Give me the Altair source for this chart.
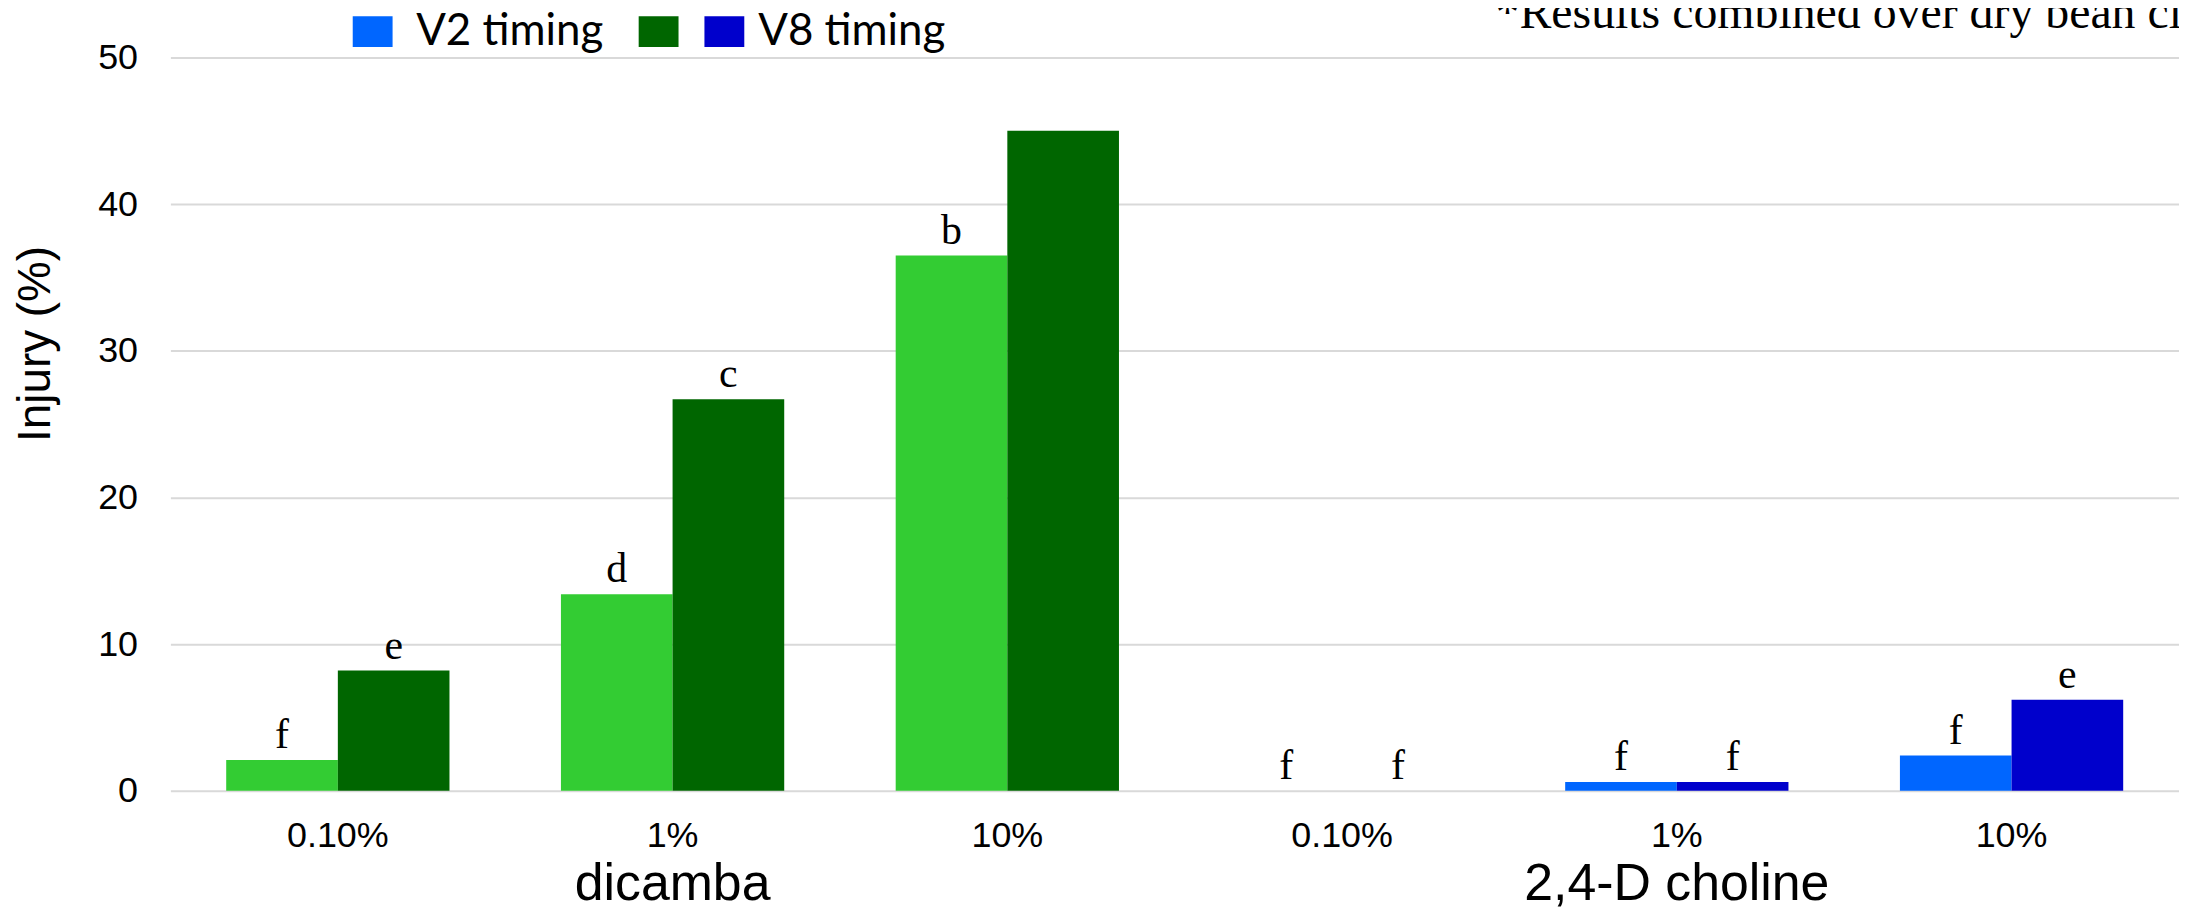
import altair as alt
import pandas as pd

# ---- data ----
herbicides = ["dicamba", "2,4-D choline"]
doses = ["0.10%", "1%", "10%"]
timings = ["V2", "V8"]

dicamba_v2 = [2.1, 13.4, 36.5]
dicamba_v8 = [8.2, 26.7, 45.0]
choline_v2 = [0.0, 0.6, 2.4]
choline_v8 = [0.0, 0.6, 6.2]

dicamba_v2_letters = ["f", "d", "b"]
dicamba_v8_letters = ["e", "c", ""]
choline_v2_letters = ["f", "f", "f"]
choline_v8_letters = ["f", "f", "e"]

bar_colors = {
    "dicamba|V2": "#33CC33",
    "dicamba|V8": "#006600",
    "2,4-D choline|V2": "#0066FF",
    "2,4-D choline|V8": "#0000CC",
}
legend_entries = ["2,4-D choline|V2", "dicamba|V8", "2,4-D choline|V8"]
note_text = "*Results combined over dry bean classes"

series = {
    ("dicamba", "V2"): (dicamba_v2, dicamba_v2_letters),
    ("dicamba", "V8"): (dicamba_v8, dicamba_v8_letters),
    ("2,4-D choline", "V2"): (choline_v2, choline_v2_letters),
    ("2,4-D choline", "V8"): (choline_v8, choline_v8_letters),
}

rows = []
for h in herbicides:
    for i, d in enumerate(doses):
        for t in timings:
            vals, lets = series[(h, t)]
            rows.append({"cat": f"{h}|{d}", "timing": t, "key": f"{h}|{t}",
                         "injury": vals[i], "letter": lets[i]})
df = pd.DataFrame(rows)
cat_order = [f"{h}|{d}" for h in herbicides for d in doses]

groups_df = pd.DataFrame({"cat": [f"{h}|{doses[1]}" for h in herbicides],
                          "group": herbicides})
note_df = pd.DataFrame({"note": [note_text]})

W, H = 2016, 736
SANS = "Liberation Sans"
SERIF = "Liberation Serif"


def xenc():
    return alt.X(
        "cat:N", sort=cat_order,
        scale=alt.Scale(paddingInner=0.333, paddingOuter=0.1667),
        axis=alt.Axis(title=None, labelExpr="split(datum.label, '|')[1]",
                      labelFont=SANS, labelFontSize=36, labelColor="black",
                      labelPadding=28, ticks=False, tickSize=0, domain=False,
                      grid=False, labelAngle=0),
    )


xoff = alt.XOffset("timing:N", sort=timings,
                   scale=alt.Scale(paddingInner=0, paddingOuter=0))

yenc = alt.Y(
    "injury:Q",
    scale=alt.Scale(domain=[0, 50], nice=False),
    axis=alt.Axis(title="Injury (%)", values=[0, 10, 20, 30, 40, 50],
                  labelFont=SANS, labelFontSize=36, labelColor="black",
                  labelPadding=33, ticks=False, tickSize=0, domain=False,
                  grid=True, gridColor="#d9d9d9", gridWidth=2,
                  titleFont=SANS, titleFontSize=46, titleFontWeight="normal",
                  titleColor="black", titleAngle=-90, titleAlign="center",
                  titleBaseline="alphabetic", titleX=-121, titleY=287),
)

ZW = "\u200b"   # zero-width guard so padding spaces survive trimming
NB = "\u00a0"
label_expr = (f"datum.value == '2,4-D choline|V2' ? '{ZW}{NB}V2 timing{NB}{NB}{ZW}' : "
              "datum.value == '2,4-D choline|V8' ? 'V8 timing' : ''")

bars = alt.Chart(df).mark_bar(strokeWidth=0).encode(
    x=xenc(),
    xOffset=xoff,
    y=yenc,
    color=alt.Color(
        "key:N",
        scale=alt.Scale(domain=list(bar_colors.keys()),
                        range=list(bar_colors.values())),
        legend=alt.Legend(
            title=None, orient="none", legendX=181, legendY=-48,
            direction="horizontal", values=legend_entries,
            labelExpr=label_expr, labelFont="Lato", labelFontSize=44,
            labelColor="black", labelOffset=12, labelLimit=600,
            columnPadding=10, padding=0,
            symbolType="M-1,-0.775H1V0.775H-1Z", symbolSize=1600,
            symbolStrokeWidth=0, symbolOpacity=1,
        ),
    ),
)

letters = alt.Chart(df).mark_text(
    font=SERIF, fontSize=42, color="black", baseline="alphabetic", dy=-12
).encode(
    x=xenc(), xOffset=xoff, y=alt.Y("injury:Q"), text="letter:N"
)

group_labels = alt.Chart(groups_df).mark_text(
    font=SANS, fontSize=52, color="black", baseline="alphabetic"
).encode(
    x=xenc(), y=alt.value(H + 110), text="group:N"
)

note = alt.Chart(note_df).mark_text(
    font=SERIF, fontSize=48, color="black", baseline="alphabetic", align="left"
).encode(
    x=alt.value(1330), y=alt.value(-30), text="note:N"
)

chart = alt.layer(bars, letters, group_labels, note).properties(
    width=W, height=H,
    padding={"left": 163, "top": 48, "right": 0, "bottom": 119},
    autosize=alt.AutoSizeParams(type="none"),
    background="white",
).configure_view(stroke=None)

chart.save("out.html", embed_options={"renderer": "svg", "actions": False})
